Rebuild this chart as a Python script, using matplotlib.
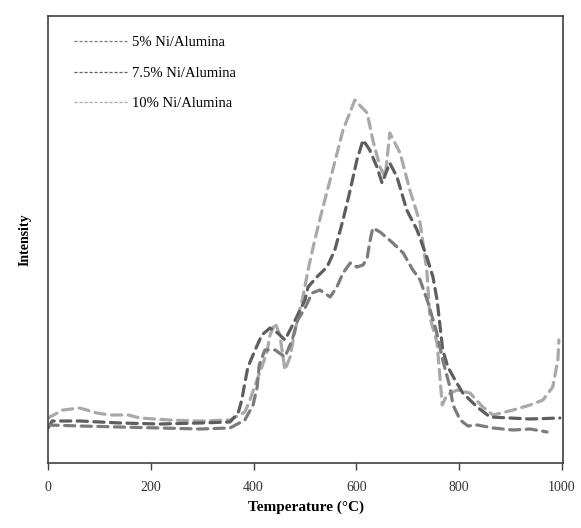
import matplotlib
matplotlib.use("Agg")
import matplotlib.pyplot as plt
from matplotlib.lines import Line2D

plt.rcParams['font.family'] = ['Liberation Serif', 'DejaVu Serif']

# temperature (C) and intensity (arbitrary units)
t_5 = [0, 62, 140, 218, 296, 354, 383, 399, 407, 411, 422, 442, 461, 475, 486, 500,
       514, 529, 549, 562, 574, 588, 601, 613, 621, 626, 632, 646, 671, 691, 710, 724,
       739, 755, 768, 782, 788, 802, 817, 835, 866, 905, 938, 971]
i_5 = [38, 37, 36, 35, 34, 35, 43, 58, 76, 98, 113, 113, 106, 123, 143, 155,
       170, 173, 166, 176, 190, 200, 196, 198, 205, 221, 235, 231, 220, 210, 193, 183,
       161, 133, 103, 76, 58, 43, 37, 38, 35, 33, 34, 31]

t_75 = [0, 8, 62, 140, 218, 296, 354, 370, 377, 383, 389, 403, 416, 432, 447, 461,
        481, 500, 506, 523, 543, 558, 574, 588, 601, 613, 626, 640, 650, 665, 679, 698,
        718, 737, 749, 757, 763, 768, 778, 792, 807, 835, 860, 899, 938, 996]
i_75 = [35, 42, 42, 40, 39, 40, 41, 50, 63, 80, 96, 113, 128, 135, 130, 123,
        143, 163, 176, 186, 196, 213, 243, 273, 303, 323, 313, 296, 280, 300, 286, 253,
        233, 206, 186, 163, 136, 113, 96, 83, 70, 56, 46, 45, 44, 45]

t_10 = [0, 29, 62, 95, 121, 156, 179, 237, 296, 354, 383, 393, 403, 416, 426, 432,
        442, 451, 461, 471, 477, 486, 496, 506, 519, 535, 554, 574, 597, 621, 632, 646,
        656, 665, 685, 704, 724, 737, 743, 757, 763, 767, 776, 796, 821, 846, 866, 905,
        938, 963, 982, 992, 994]
i_10 = [45, 53, 55, 50, 48, 48, 45, 43, 42, 43, 51, 63, 78, 96, 111, 128,
        140, 128, 93, 106, 123, 146, 166, 193, 223, 256, 293, 333, 363, 350, 323, 296,
        286, 330, 310, 273, 240, 193, 146, 120, 83, 58, 68, 73, 70, 56, 48, 53,
        58, 63, 76, 103, 123]

labels = ['5% Ni/Alumina', '7.5% Ni/Alumina', '10% Ni/Alumina']
colors = ['#7c7c7c', '#5e5e5e', '#a9a9a9']

fig = plt.figure(figsize=(5.81, 5.28), dpi=100)
ax = fig.add_axes([48 / 581, 65 / 528, 515 / 581, 447 / 528])

for t, i, c in zip([t_10, t_75, t_5], [i_10, i_75, i_5], [colors[2], colors[1], colors[0]]):
    ax.plot(t, i, color=c, lw=2.3, dashes=(3.2, 2.0), dash_capstyle='round')

ax.set_xlim(0, 1002)
ax.set_ylim(0, 447)
ax.set_xticks([0, 200, 400, 600, 800, 1000])
ax.set_yticks([])
ax.tick_params(axis='x', direction='out', length=5, width=1, color='#404040',
               labelsize=10, labelcolor='#333333', pad=8)
for s in ax.spines.values():
    s.set_color('#404040')
    s.set_linewidth(1.2)

ax.set_xlabel('Temperature (°C)', fontsize=11, fontweight='bold', labelpad=5)
ax.set_ylabel('Intensity', fontsize=10, fontweight='bold', labelpad=12)

handles = [Line2D([], [], color=c, lw=0.9, dashes=(2.5, 1.5)) for c in colors]
ax.legend(handles, labels, loc='upper left', bbox_to_anchor=(0.025, 0.985),
          frameon=False, fontsize=10.5, handlelength=3.6, handletextpad=0.4,
          labelspacing=1.2)

fig.savefig('out.png', dpi=100)
